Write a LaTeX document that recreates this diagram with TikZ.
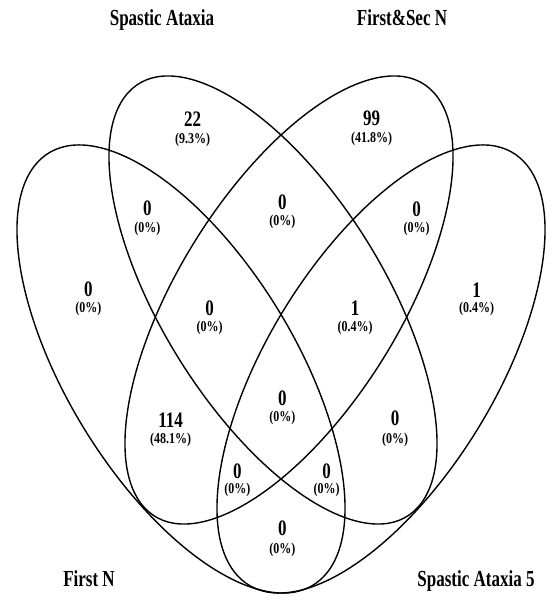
\documentclass[tikz,border=0pt]{standalone}
\usepackage{fontspec}
\setmainfont{Liberation Serif}
\usepackage{graphicx}
\newcommand{\ttl}[1]{\scalebox{1}[1.35]{#1}}
\newcommand{\vnum}[1]{\scalebox{1}[1.3]{#1}}
\newcommand{\vpct}[1]{\scalebox{1}[1.25]{#1}}
\tikzset{
  venn/.style={draw=black, line width=1.4pt},
  settitle/.style={font=\fontsize{17}{20}\selectfont\bfseries, anchor=base, inner sep=0pt},
  setnum/.style={font=\fontsize{17}{20}\selectfont\bfseries, inner sep=0pt},
  setpct/.style={font=\fontsize{12}{14}\selectfont\bfseries, inner sep=0pt},
}
\begin{document}
\begin{tikzpicture}[x=1pt,y=1pt]
\useasboundingbox (0,0) rectangle (557,601);
% ellipses (y-up coordinates)
\draw[venn, shift={(181,232)}, xscale=1.64, yscale=2.24, rotate=135] (0,0) ellipse (127.3 and 61.6);
\draw[venn, shift={(273,301)}, xscale=1.64, yscale=2.24, rotate=135] (0,0) ellipse (128.06 and 60);
\draw[venn, shift={(289,301)}, xscale=1.64, yscale=2.24, rotate=45] (0,0) ellipse (128.06 and 60);
\draw[venn, shift={(381,232)}, xscale=1.64, yscale=2.24, rotate=45] (0,0) ellipse (127.3 and 61.6);
% titles
\node[settitle] (tSA) at (162,575) {\ttl{Spastic Ataxia}};
\node[settitle] (tFS) at (402,575) {\ttl{First\&Sec N}};
\node[settitle] (tFN) at (89,14) {\ttl{First N}};
\node[settitle] (tS5) at (476,14) {\ttl{Spastic Ataxia 5}};
% region counts
\node[setnum] (n1) at (192.7,482) {\vnum{22}};
\node[setpct] (p1) at (192.7,461.5) {\vpct{(9.3\%)}};
\node[setnum] (n2) at (371.7,482.5) {\vnum{99}};
\node[setpct] (p2) at (371.7,461.7) {\vpct{(41.8\%)}};
\node[setnum] (n3) at (88.3,311.7) {\vnum{0}};
\node[setpct] (p3) at (88.3,291.7) {\vpct{(0\%)}};
\node[setnum] (n4) at (476.7,311) {\vnum{1}};
\node[setpct] (p4) at (476.7,291.7) {\vpct{(0.4\%)}};
\node[setnum] (n5) at (147.4,392.5) {\vnum{0}};
\node[setpct] (p5) at (147.4,372.5) {\vpct{(0\%)}};
\node[setnum] (n6) at (282.4,399) {\vnum{0}};
\node[setpct] (p6) at (282.4,379) {\vpct{(0\%)}};
\node[setnum] (n7) at (416.7,392) {\vnum{0}};
\node[setpct] (p7) at (416.7,372) {\vpct{(0\%)}};
\node[setnum] (n8) at (209.6,292.7) {\vnum{0}};
\node[setpct] (p8) at (209.6,273) {\vpct{(0\%)}};
\node[setnum] (n9) at (355,292.7) {\vnum{1}};
\node[setpct] (p9) at (355,273) {\vpct{(0.4\%)}};
\node[setnum] (n10) at (282.4,202.7) {\vnum{0}};
\node[setpct] (p10) at (282.4,183) {\vpct{(0\%)}};
\node[setnum] (n11) at (170.7,181) {\vnum{114}};
\node[setpct] (p11) at (170.7,161) {\vpct{(48.1\%)}};
\node[setnum] (n12) at (395,182.5) {\vnum{0}};
\node[setpct] (p12) at (395,161) {\vpct{(0\%)}};
\node[setnum] (n13) at (237.3,129.3) {\vnum{0}};
\node[setpct] (p13) at (237.3,111) {\vpct{(0\%)}};
\node[setnum] (n14) at (326.7,129.3) {\vnum{0}};
\node[setpct] (p14) at (326.7,111) {\vpct{(0\%)}};
\node[setnum] (n15) at (282.3,72.7) {\vnum{0}};
\node[setpct] (p15) at (282.3,51) {\vpct{(0\%)}};
\end{tikzpicture}
\end{document}
